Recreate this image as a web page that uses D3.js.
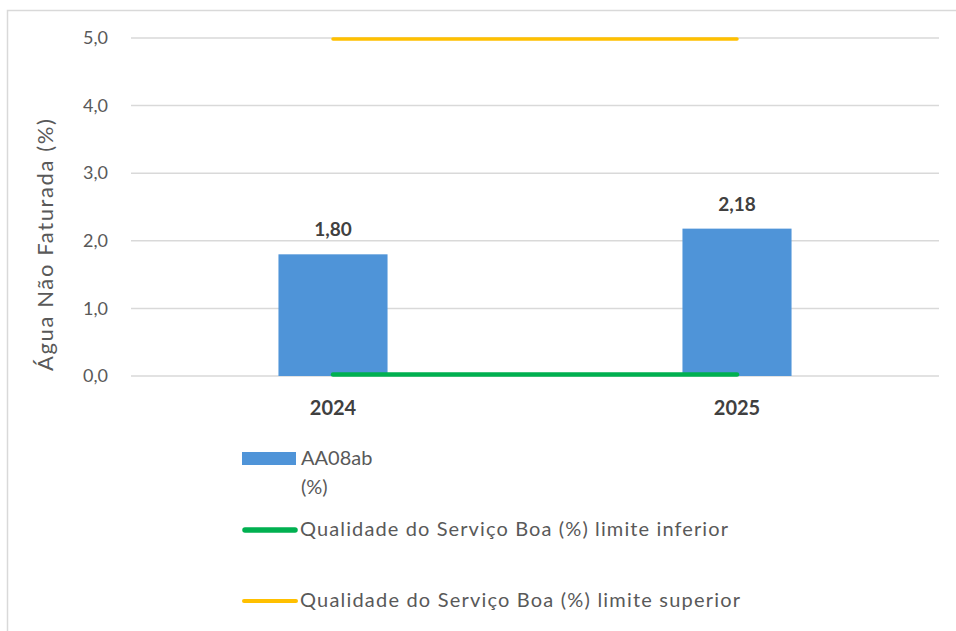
<!DOCTYPE html>
<html>
<head>
<meta charset="utf-8">
<script src="https://cdn.jsdelivr.net/npm/d3@7"></script>
<style>
  body { margin: 0; background: #fff; }
  text { font-family: Lato, "Open Sans", sans-serif; }
</style>
</head>
<body>
<div id="chart"></div>
<script>
var years = ['2024', '2025'];
var valores = [1.80, 2.18];
var limiteInferior = [0, 0];
var limiteSuperior = [5, 5];
var yTicks = [0, 1, 2, 3, 4, 5];

var width = 956, height = 631;
var margin = {top: 38, right: 17, bottom: 255, left: 131};
var w = width - margin.left - margin.right,
    h = height - margin.top - margin.bottom;

var svg = d3.select('#chart').append('svg')
  .attr('width', width)
  .attr('height', height);

// moldura
svg.append('rect')
  .attr('x', 7.5).attr('y', 10.5)
  .attr('width', 960).attr('height', 640)
  .attr('fill', 'none')
  .attr('stroke', '#d9d9d9')
  .attr('stroke-width', 1.5);

var g = svg.append('g')
  .attr('transform', 'translate(' + margin.left + ',' + margin.top + ')');

var x = d3.scaleBand().domain(years).range([0, w]).paddingInner(0.73).paddingOuter(0.365);
var y = d3.scaleLinear().domain([0, 5]).range([h, 0]);

var fmt = function(d, n) { return d3.format('.' + n + 'f')(d).replace('.', ','); };

// grelha
g.selectAll('.grid').data(yTicks).enter().append('line')
  .attr('x1', 0).attr('x2', w)
  .attr('y1', function(d) { return y(d); })
  .attr('y2', function(d) { return y(d); })
  .attr('stroke', '#d9d9d9')
  .attr('stroke-width', 1.5);

// eixo y
var yAxis = g.append('g').call(d3.axisLeft(y).tickValues(yTicks).tickSize(0).tickPadding(23)
  .tickFormat(function(d) { return fmt(d, 1); }));
yAxis.select('.domain').remove();
yAxis.selectAll('text')
  .attr('fill', '#595959')
  .style('font-size', '18px')
  .style('font-family', 'Lato, sans-serif');

// barras
g.selectAll('.bar').data(years).enter().append('rect')
  .attr('x', function(d) { return x(d); })
  .attr('y', function(d, i) { return y(valores[i]); })
  .attr('width', x.bandwidth())
  .attr('height', function(d, i) { return h - y(valores[i]); })
  .attr('fill', '#4f94d8');

// linhas de limite
var line = d3.line()
  .x(function(d, i) { return x(years[i]) + x.bandwidth() / 2; })
  .y(function(d) { return y(d); });

g.append('path').datum(limiteInferior)
  .attr('d', line)
  .attr('fill', 'none')
  .attr('stroke', '#00b050')
  .attr('stroke-width', 4.5)
  .attr('stroke-linecap', 'round')
  .attr('transform', 'translate(0,-1.5)');

g.append('path').datum(limiteSuperior)
  .attr('d', line)
  .attr('fill', 'none')
  .attr('stroke', '#ffc000')
  .attr('stroke-width', 3.5)
  .attr('stroke-linecap', 'round')
  .attr('transform', 'translate(0,1)');

// rótulos
g.selectAll('.lbl').data(years).enter().append('text')
  .attr('x', function(d) { return x(d) + x.bandwidth() / 2; })
  .attr('y', function(d, i) { return y(valores[i]) - 18; })
  .attr('text-anchor', 'middle')
  .attr('fill', '#404040')
  .style('font-size', '19px')
  .style('font-weight', 'bold')
  .text(function(d, i) { return fmt(valores[i], 2); });

// eixo x
g.selectAll('.xl').data(years).enter().append('text')
  .attr('x', function(d) { return x(d) + x.bandwidth() / 2; })
  .attr('y', h + 39)
  .attr('text-anchor', 'middle')
  .attr('fill', '#404040')
  .style('font-size', '20px')
  .style('font-weight', 'bold')
  .text(function(d) { return d; });

// título do eixo y
svg.append('text')
  .attr('transform', 'translate(53,245) rotate(-90)')
  .attr('text-anchor', 'middle')
  .attr('fill', '#595959')
  .style('font-size', '22px')
  .attr('textLength', 252)
  .attr('lengthAdjust', 'spacing')
  .text('Água Não Faturada (%)');

// legenda
var leg = svg.append('g');
leg.append('rect').attr('x', 242).attr('y', 452).attr('width', 54).attr('height', 13).attr('fill', '#4f94d8');
leg.append('text').attr('x', 301).attr('y', 465).attr('fill', '#595959').style('font-size', '20px').text('AA08ab');
leg.append('text').attr('x', 301).attr('y', 494).attr('fill', '#595959').style('font-size', '20px').text('(%)');

leg.append('line').attr('x1', 245).attr('x2', 295).attr('y1', 530).attr('y2', 530)
  .attr('stroke', '#00b050').attr('stroke-width', 5.5).attr('stroke-linecap', 'round');
leg.append('text').attr('x', 300).attr('y', 536).attr('fill', '#595959').style('font-size', '20px')
  .attr('textLength', 428).attr('lengthAdjust', 'spacing')
  .text('Qualidade do Serviço Boa (%) limite inferior');

leg.append('line').attr('x1', 244).attr('x2', 296).attr('y1', 601).attr('y2', 601)
  .attr('stroke', '#ffc000').attr('stroke-width', 4).attr('stroke-linecap', 'round');
leg.append('text').attr('x', 300).attr('y', 607).attr('fill', '#595959').style('font-size', '20px')
  .attr('textLength', 440).attr('lengthAdjust', 'spacing')
  .text('Qualidade do Serviço Boa (%) limite superior');
</script>
</body>
</html>
